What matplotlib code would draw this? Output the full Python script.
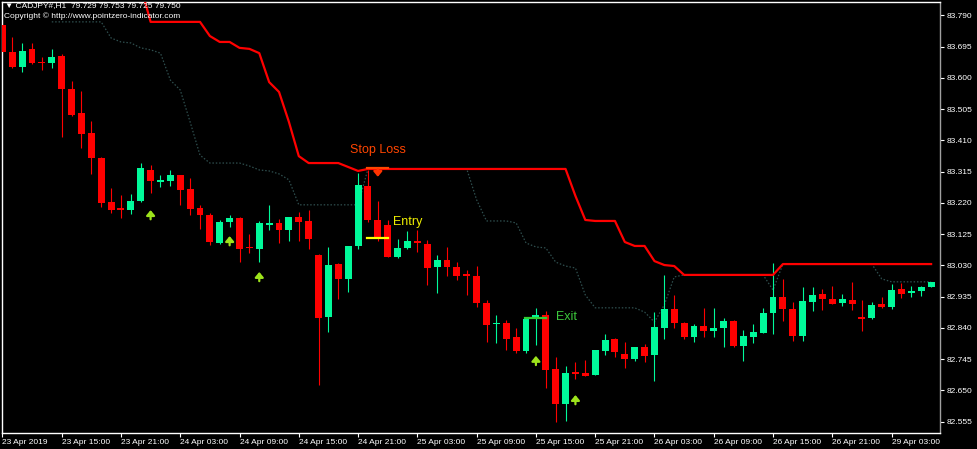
import matplotlib.pyplot as plt
import numpy as np

plt.rcParams['font.family'] = ['Liberation Sans', 'DejaVu Sans']

# H1 candles, 23 Apr 09:00 -> 29 Apr 06:00 (bar index = position on chart)
opens = [83.761, 83.678, 83.633, 83.688, 83.648, 83.645, 83.666, 83.566, 83.493, 83.432,
         83.356, 83.223, 83.204, 83.198, 83.226, 83.320, 83.283, 83.286, 83.305, 83.262,
         83.204, 83.183, 83.098, 83.162, 83.174, 83.086, 83.080, 83.153, 83.159, 83.138,
         83.177, 83.165, 83.062, 82.873, 83.034, 82.989, 83.089, 83.271, 83.168, 83.153,
         83.056, 83.083, 83.104, 83.095, 83.025, 83.046, 83.025, 83.004, 82.998, 82.916,
         82.852, 82.855, 82.812, 82.770, 82.870, 82.879, 82.715, 82.609, 82.706, 82.703,
         82.697, 82.770, 82.806, 82.761, 82.746, 82.782, 82.758, 82.840, 82.897, 82.855,
         82.812, 82.846, 82.831, 82.840, 82.861, 82.785, 82.812, 82.825, 82.885, 82.934,
         82.897, 82.815, 82.919, 82.943, 82.928, 82.916, 82.925, 82.873, 82.870, 82.913,
         82.904, 82.958, 82.946, 82.952, 82.964]
highs = [83.776, 83.724, 83.706, 83.706, 83.663, 83.688, 83.672, 83.590, 83.560, 83.469,
         83.358, 83.265, 83.244, 83.247, 83.341, 83.335, 83.305, 83.320, 83.306, 83.296,
         83.214, 83.189, 83.168, 83.183, 83.176, 83.125, 83.165, 83.214, 83.171, 83.177,
         83.192, 83.198, 83.064, 83.086, 83.036, 83.089, 83.311, 83.320, 83.226, 83.168,
         83.110, 83.134, 83.138, 83.107, 83.062, 83.086, 83.040, 83.016, 83.028, 82.925,
         82.879, 82.864, 82.840, 82.870, 82.901, 82.891, 82.752, 82.724, 82.736, 82.743,
         82.773, 82.822, 82.809, 82.797, 82.782, 82.791, 82.888, 83.001, 82.940, 82.858,
         82.852, 82.901, 82.901, 82.870, 82.864, 82.834, 82.852, 82.901, 83.037, 82.989,
         82.919, 82.964, 82.964, 82.958, 82.967, 82.943, 82.980, 82.925, 82.919, 82.934,
         82.973, 82.976, 82.967, 82.967, 82.980]
lows = [83.666, 83.630, 83.618, 83.642, 83.624, 83.630, 83.420, 83.484, 83.387, 83.308,
        83.207, 83.189, 83.174, 83.186, 83.224, 83.250, 83.268, 83.271, 83.214, 83.183,
        83.141, 83.092, 83.095, 83.147, 83.040, 83.068, 83.040, 83.138, 83.098, 83.104,
        83.104, 83.080, 82.667, 82.828, 82.928, 82.949, 83.080, 83.162, 83.104, 83.054,
        83.052, 83.080, 83.071, 82.970, 82.946, 82.998, 82.986, 82.940, 82.904, 82.797,
        82.794, 82.773, 82.764, 82.764, 82.788, 82.657, 82.554, 82.557, 82.685, 82.694,
        82.696, 82.758, 82.752, 82.718, 82.739, 82.736, 82.679, 82.806, 82.840, 82.806,
        82.797, 82.812, 82.812, 82.782, 82.782, 82.739, 82.794, 82.823, 82.822, 82.861,
        82.800, 82.800, 82.891, 82.894, 82.913, 82.907, 82.894, 82.831, 82.867, 82.901,
        82.897, 82.931, 82.934, 82.937, 82.963]
closes = [83.678, 83.633, 83.682, 83.645, 83.645, 83.663, 83.566, 83.486, 83.429, 83.356,
          83.220, 83.198, 83.198, 83.226, 83.326, 83.286, 83.290, 83.305, 83.259, 83.201,
          83.183, 83.101, 83.162, 83.174, 83.080, 83.083, 83.159, 83.159, 83.138, 83.177,
          83.162, 83.110, 82.870, 83.031, 82.989, 83.089, 83.274, 83.168, 83.110, 83.056,
          83.083, 83.104, 83.098, 83.022, 83.046, 83.025, 82.998, 82.998, 82.916, 82.849,
          82.855, 82.806, 82.770, 82.867, 82.879, 82.712, 82.609, 82.703, 82.700, 82.694,
          82.773, 82.803, 82.767, 82.746, 82.782, 82.755, 82.843, 82.897, 82.855, 82.812,
          82.846, 82.831, 82.840, 82.861, 82.785, 82.815, 82.828, 82.885, 82.934, 82.897,
          82.815, 82.922, 82.940, 82.928, 82.913, 82.928, 82.913, 82.867, 82.910, 82.904,
          82.955, 82.943, 82.952, 82.964, 82.980]

# trailing stop (red), starts at bar 14
stop_line = [83.879, 83.770, 83.770, 83.770, 83.770, 83.770, 83.770, 83.727, 83.709, 83.709,
             83.691, 83.688, 83.675, 83.587, 83.557, 83.466, 83.362, 83.341, 83.341, 83.341,
             83.341, 83.329, 83.317, 83.323, 83.323, 83.323, 83.323, 83.323, 83.323, 83.323,
             83.323, 83.323, 83.323, 83.323, 83.323, 83.323, 83.323, 83.323, 83.323, 83.323,
             83.323, 83.323, 83.323, 83.323, 83.241, 83.168, 83.165, 83.165, 83.165, 83.101,
             83.089, 83.089, 83.043, 83.031, 83.028, 83.001, 83.001, 83.001, 83.001, 83.001,
             83.001, 83.001, 83.001, 83.001, 83.001, 83.034, 83.034, 83.034, 83.034, 83.034,
             83.034, 83.034, 83.034, 83.034, 83.034, 83.034, 83.034, 83.034, 83.034, 83.034,
             83.034]
# fast trailing stop (dark dotted), starts at bar 5
fast_line = [83.770, 83.770, 83.770, 83.770, 83.770, 83.770, 83.721, 83.709, 83.706, 83.691,
             83.685, 83.675, 83.593, 83.563, 83.466, 83.365, 83.341, 83.341, 83.341, 83.341,
             83.332, 83.320, 83.317, 83.308, 83.290, 83.214, 83.214, 83.214, 83.214, 83.214,
             83.214, 83.214, 83.323, 83.323, 83.323, 83.323, 83.323, 83.323, 83.323, 83.323,
             83.323, 83.323, 83.323, 83.229, 83.165, 83.165, 83.165, 83.159, 83.098, 83.086,
             83.083, 83.040, 83.028, 83.022, 82.940, 82.901, 82.901, 82.901, 82.901, 82.901,
             82.888, 82.858, 82.910, 82.995, 83.001, 83.001, 83.001, 83.001, 83.001, 83.001,
             83.001, 83.001, 83.001, 82.955, 83.034, 83.034, 83.034, 83.034, 83.034, 83.034,
             83.034, 83.034, 83.034, 83.034, 82.989, 82.980, 82.980, 82.980, 82.980, 82.980]

up_arrow_bars = [15, 23, 26, 54, 58]
up_arrow_tips = [83.198, 83.119, 83.010, 82.755, 82.636]
down_arrow_bar = 38
down_arrow_tip = 83.299

sl_bars = [36.9, 39.0]
sl_price = 83.326
entry_bars = [36.9, 39.0]
entry_price = 83.113
exit_bars = [52.9, 55.0]
exit_price = 82.870

price_ticks = [82.555, 82.650, 82.745, 82.840, 82.935, 83.030, 83.125, 83.220,
               83.315, 83.410, 83.505, 83.600, 83.695, 83.790]
time_tick_bars = [0, 6, 12, 18, 24, 30, 36, 42, 48, 54, 60, 66, 72, 78, 84, 90]
time_labels = ['23 Apr 2019', '23 Apr 15:00', '23 Apr 21:00', '24 Apr 03:00',
               '24 Apr 09:00', '24 Apr 15:00', '24 Apr 21:00', '25 Apr 03:00',
               '25 Apr 09:00', '25 Apr 15:00', '25 Apr 21:00', '26 Apr 03:00',
               '26 Apr 09:00', '26 Apr 15:00', '26 Apr 21:00', '29 Apr 03:00']

GREEN = '#00fa9a'
RED = '#ff0000'
ARROW = '#9de31b'

o = np.array(opens)
h = np.array(highs)
l = np.array(lows)
c = np.array(closes)
idx = np.arange(len(o))
cols = np.where(c >= o, GREEN, RED)

fig = plt.figure(figsize=(9.77, 4.49), dpi=100, facecolor='black')
ax = fig.add_axes([2 / 977, 16 / 449, 938 / 977, 431 / 449])
ax.set_facecolor('black')

ax.plot(idx[5:], fast_line, color='#2f4f4f', lw=0.9, ls=(0, (1.2, 1.5)), zorder=1)
ax.vlines(idx, l, h, colors=cols, lw=0.8, zorder=2)
ax.bar(idx, np.maximum(np.abs(c - o), 0.0035), bottom=np.minimum(o, c), width=0.7,
       color=cols, lw=0, zorder=3)
ax.plot(idx[14:], stop_line, color=RED, lw=1.6, zorder=4)

# signals
ax.plot(sl_bars, [sl_price, sl_price], color='#ff4500', lw=1.6, zorder=5)
ax.plot(entry_bars, [entry_price, entry_price], color='#ffff00', lw=1.6, zorder=5)
ax.plot(exit_bars, [exit_price, exit_price], color='#32cd32', lw=1.6, zorder=5)
ax.text(35.2, 83.381, 'Stop Loss', color='#ff4500', fontsize=9, va='center', ha='left')
ax.text(39.55, 83.162, 'Entry', color='#f0f000', fontsize=9, va='center', ha='left')
ax.text(56.05, 82.873, 'Exit', color='#3cc83c', fontsize=9, va='center', ha='left')

for b, tip in zip(up_arrow_bars, up_arrow_tips):
    ax.annotate('', xy=(b, tip), xytext=(b, tip - 0.028),
                arrowprops=dict(arrowstyle='-|>,head_length=0.3,head_width=0.25',
                                color=ARROW, lw=1.6, shrinkA=0, shrinkB=0), zorder=6)
ax.annotate('', xy=(down_arrow_bar, down_arrow_tip), xytext=(down_arrow_bar, down_arrow_tip + 0.024),
            arrowprops=dict(arrowstyle='-|>,head_length=0.3,head_width=0.25',
                            color='#ff3300', lw=1.6, shrinkA=0, shrinkB=0), zorder=6)

ax.set_xlim(-0.04, 94.9)
ax.set_ylim(82.5206, 83.8304)

ax.yaxis.tick_right()
ax.set_yticks(price_ticks)
ax.set_yticklabels(['%.3f' % p for p in price_ticks])
ax.set_xticks(time_tick_bars)
ax.set_xticklabels(time_labels, ha='left')
ax.tick_params(axis='y', colors='white', labelsize=6, length=3, pad=1.5, width=0.8)
ax.tick_params(axis='x', colors='white', labelsize=6, length=3, pad=1, width=0.8)

for side in ['top', 'left', 'bottom']:
    ax.spines[side].set_color('white')
    ax.spines[side].set_linewidth(1)
ax.spines['right'].set_color('#a0a0a0')
ax.spines['right'].set_linewidth(1)

fig.text(5 / 977, 1 - 6 / 449, '\u25bc CADJPY#,H1  79.729 79.753 79.725 79.750', color='white',
         fontsize=6, va='center', ha='left')
fig.text(4 / 977, 1 - 16 / 449, 'Copyright \u00a9 http://www.pointzero-indicator.com', color='white',
         fontsize=6, va='center', ha='left')

fig.savefig('out.png', dpi=100, facecolor='black')
